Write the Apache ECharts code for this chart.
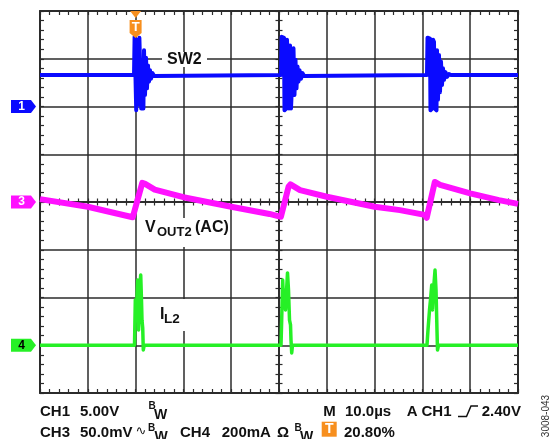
<!DOCTYPE html>
<html>
<head>
<meta charset="utf-8">
<script src="https://cdn.jsdelivr.net/npm/echarts@6/dist/echarts.min.js"></script>
<style>
html,body{margin:0;padding:0;background:#fff;}
#scope{width:551px;height:439px;}
</style>
</head>
<body>
<div id="scope"></div>
<script>
// Horizontal: time in µs (10 µs/div, centre = 0). Vertical: screen divisions (-4..4).
const timeRange = [-50, 50];
const timePerDiv = 10;
const divRange = [-4, 4];

// Channel scales and ground positions (in divisions from the screen centre)
const ch1VoltsPerDiv = 5;      // CH1 5.00V
const ch1Ground = 2;
const ch3MilliVoltsPerDiv = 50; // CH3 50.0mV (AC)
const ch3Ground = 0;
const ch4MilliAmpsPerDiv = 200; // CH4 200mA
const ch4Ground = -3;
const triggerTime = -30;

// CH1: SW2 switch node, [µs, V]
const sw2Volts = [
  [-50, 3.3], [-30.33, 3.3],
  [-30.21, 7.3], [-29.96, 7.2], [-29.87, -0.4], [-29.67, -0.2], [-29.58, 7.0], [-29.41, 7.1],
  [-29.33, 0.2], [-29.21, 7.2], [-28.95, 7.0], [-28.83, -0.2], [-28.37, -0.2], [-28.24, 5.9],
  [-28.03, 1.2], [-27.82, 5.1], [-27.62, 1.9], [-27.41, 4.3], [-27.20, 2.6], [-26.99, 3.8],
  [-26.78, 2.9], [-26.46, 3.5], [-26.15, 3.2], [-25.8, 3.3],
  [0.42, 3.3],
  [0.56, 7.3], [1.05, 7.2], [1.15, -0.4], [1.57, -0.2], [1.67, 7.0], [1.99, 7.0], [2.09, -0.2],
  [2.30, 6.4], [2.51, -0.2], [2.82, -0.2], [3.03, 6.1], [3.24, 1.2], [3.45, 4.9], [3.66, 1.9],
  [3.87, 4.2], [4.08, 2.6], [4.29, 3.8], [4.60, 2.9], [4.92, 3.5], [5.23, 3.2], [5.54, 3.3],
  [30.96, 3.3],
  [31.07, 7.2], [31.59, 7.1], [31.69, -0.4], [32.11, -0.2], [32.22, 7.0], [32.43, 6.75],
  [32.53, -0.2], [32.95, -0.4], [33.05, 5.9], [33.26, 0.7], [33.47, 5.4], [33.68, 1.5],
  [33.89, 4.7], [34.10, 2.25], [34.31, 4.0], [34.52, 2.8], [34.83, 3.6], [35.15, 3.1],
  [35.56, 3.4], [35.98, 3.3],
  [50, 3.3]
];

// CH3: VOUT2 ripple (AC coupled), [µs, mV]
const vout2MilliVolts = [
  [-50, 3], [-40, -5], [-30.6, -16], [-30.2, -17.5], [-28.6, 20], [-28, 19], [-26, 13],
  [-20, 5], [-10, -5], [-2, -12.5], [0.4, -15.5], [0.7, -16.5], [2.0, 16], [2.4, 18.5],
  [4.4, 12.5], [10, 5.5], [20, -5], [25.3, -8.5], [30.5, -13.5], [30.9, -16.5],
  [32.6, 21], [33.7, 18], [40, 9], [46, 2], [50, -2]
];

// CH4: inductor current IL2, [µs, mA]
const il2MilliAmps = [
  [-50, 0], [-30.23, 0],
  [-30.06, 190], [-29.92, 105], [-29.56, 273], [-29.37, 64], [-29.18, 231], [-28.93, 294],
  [-28.77, 190], [-28.66, 105], [-28.51, 72], [-28.39, -20], [-28.2, 0],
  [0.42, 0],
  [0.56, 105], [0.77, 273], [0.94, 190], [1.15, 231], [1.36, 148], [1.78, 303], [1.99, 231],
  [2.20, 105], [2.41, 85], [2.51, 22], [2.66, -32], [2.82, 0],
  [30.96, 0],
  [31.17, 64], [31.49, 148], [31.69, 190], [31.95, 252], [32.11, 148], [32.32, 231],
  [32.64, 315], [32.85, 231], [33.05, 64], [33.16, -20], [33.37, 0],
  [50, 0]
];

const BLUE = '#0a0aff';
const MAGENTA = '#ff10ff';
const GREEN = '#26f026';
const ORANGE = '#f78f1e';
const GRID = '#2b2b2b';
const INK = '#111111';

const toDiv = (pts, perDiv, ground) => pts.map(([t, v]) => [t, v / perDiv + ground]);

function frameAxis(position, withSplit, isX) {
  return {
    type: 'value',
    position: position,
    min: isX ? timeRange[0] : divRange[0],
    max: isX ? timeRange[1] : divRange[1],
    interval: isX ? timePerDiv : 1,
    axisLine: { show: true, onZero: false, lineStyle: { color: GRID, width: 2 } },
    axisTick: { show: true, inside: true, length: 4, lineStyle: { color: GRID, width: 1.2 } },
    minorTick: { show: true, splitNumber: 5, length: 4, lineStyle: { color: GRID, width: 1.2 } },
    splitLine: { show: withSplit, lineStyle: { color: GRID, width: 1.5 } },
    minorSplitLine: { show: false },
    axisLabel: { show: false }
  };
}
function centreAxis(position, inside, isX) {
  return {
    type: 'value',
    position: position,
    min: isX ? timeRange[0] : divRange[0],
    max: isX ? timeRange[1] : divRange[1],
    interval: isX ? timePerDiv : 1,
    axisLine: { show: true, onZero: true, onZeroAxisIndex: 0, lineStyle: { color: GRID, width: 1.5 } },
    axisTick: { show: true, inside: inside, length: 3.5, lineStyle: { color: GRID, width: 1.2 } },
    minorTick: { show: true, splitNumber: 5, length: 3.5, lineStyle: { color: GRID, width: 1.2 } },
    splitLine: { show: false },
    minorSplitLine: { show: false },
    axisLabel: { show: false }
  };
}

function channelTag(num, ground, color, textColor) {
  return {
    coord: [timeRange[0], ground],
    symbol: 'path://M0 0L20 0L25 6.5L20 13L0 13Z',
    symbolSize: [25, 13],
    symbolOffset: [-16.5, 0],
    itemStyle: { color: color },
    label: { show: true, formatter: String(num), color: textColor, fontWeight: 'bold',
             fontSize: 12, fontFamily: 'Liberation Sans, Arial', offset: [-2, 0] }
  };
}

const FONT = '"Liberation Sans", Arial, sans-serif';
function txt(x, y, text, size, extra) {
  return Object.assign({
    type: 'text', x: x, y: y, z: 1,
    style: { text: text, font: 'bold ' + size + 'px ' + FONT, fill: INK,
             textAlign: 'left', textVerticalAlign: 'middle', verticalAlign: 'middle' }
  }, extra || {});
}
function box(x, y, w, h, fill) {
  return { type: 'rect', z: 1, shape: { x: x, y: y, width: w, height: h }, style: { fill: fill || '#fff' } };
}

const chart = echarts.init(document.getElementById('scope'), null, { renderer: 'canvas' });
chart.setOption({
  animation: false,
  backgroundColor: '#fff',
  grid: { left: 40, top: 11, width: 478, height: 382, containLabel: false, outerBoundsMode: 'none', show: false },
  xAxis: [
    frameAxis('bottom', true, true),
    frameAxis('top', false, true),
    centreAxis('bottom', true, true),
    centreAxis('bottom', false, true)
  ],
  yAxis: [
    frameAxis('left', true, false),
    frameAxis('right', false, false),
    centreAxis('left', true, false),
    centreAxis('left', false, false)
  ],
  series: [
    {
      name: 'SW2', type: 'line', xAxisIndex: 0, yAxisIndex: 0, z: 3,
      data: toDiv(sw2Volts, ch1VoltsPerDiv, ch1Ground),
      showSymbol: false, symbol: 'none',
      lineStyle: { color: BLUE, width: 4, join: 'round' },
      markPoint: {
        silent: true,
        data: [
          channelTag(1, ch1Ground, BLUE, '#fff'),
          {
            coord: [triggerTime, divRange[1]],
            symbol: 'path://M0 0L12 0L6 7Z', symbolSize: [11, 7], symbolOffset: [0, 3.5],
            itemStyle: { color: ORANGE }, label: { show: false }
          },
          {
            coord: [triggerTime, divRange[1]],
            symbol: 'path://M0 0L12 0L12 13L6 18L0 13Z', symbolSize: [12, 18], symbolOffset: [0, 18],
            itemStyle: { color: ORANGE },
            label: { show: true, formatter: 'T', color: '#fff', fontWeight: 'bold', fontSize: 13,
                     fontFamily: FONT, offset: [0, -1.5] }
          }
        ]
      }
    },
    {
      name: 'VOUT2', type: 'line', xAxisIndex: 0, yAxisIndex: 0, z: 3,
      data: toDiv(vout2MilliVolts, ch3MilliVoltsPerDiv, ch3Ground),
      showSymbol: false, symbol: 'none',
      lineStyle: { color: MAGENTA, width: 6, join: 'round' },
      markPoint: { silent: true, data: [channelTag(3, ch3Ground, MAGENTA, '#fff')] }
    },
    {
      name: 'IL2', type: 'line', xAxisIndex: 0, yAxisIndex: 0, z: 3,
      data: toDiv(il2MilliAmps, ch4MilliAmpsPerDiv, ch4Ground),
      showSymbol: false, symbol: 'none',
      lineStyle: { color: GREEN, width: 3.5, join: 'round' },
      markPoint: { silent: true, data: [channelTag(4, ch4Ground, GREEN, '#000')] }
    }
  ],
  graphic: [
    // trace labels
    box(162, 52, 45, 15),
    txt(167, 59.5, 'SW2', 16),
    box(138, 218, 92, 29),
    txt(145, 228, 'V', 16),
    txt(157, 232.5, 'OUT2', 13),
    txt(195, 228, '(AC)', 16),
    box(152, 299, 36, 32),
    txt(160, 314.7, 'I', 16),
    txt(164, 319, 'L2', 13.5),

    // readout line 1
    txt(40, 411.7, 'CH1', 15),
    txt(80, 411.7, '5.00V', 15),
    txt(148.5, 406.5, 'B', 10),
    txt(154, 415.5, 'W', 14),
    txt(323.3, 411.7, 'M', 15),
    txt(345, 411.7, '10.0µs', 15),
    txt(406.7, 411.7, 'A', 15),
    txt(421.5, 411.7, 'CH1', 15),
    { type: 'polyline', z: 1, shape: { points: [[458, 416.5], [466.5, 416.5], [471, 406], [478, 406]] },
      style: { stroke: INK, lineWidth: 1.5, fill: null } },
    txt(481.7, 411.7, '2.40V', 15),

    // readout line 2
    txt(40, 433, 'CH3', 15),
    txt(80, 433, '50.0mV', 15),
    txt(135.5, 432, '∿', 13, { style: { text: '∿', font: '13px "DejaVu Sans", sans-serif', fill: INK,
        textAlign: 'left', textVerticalAlign: 'middle', verticalAlign: 'middle' } }),
    txt(148, 428, 'B', 10),
    txt(154.5, 437, 'W', 14),
    txt(180, 433, 'CH4', 15),
    txt(221.7, 433, '200mA', 15),
    txt(277, 433, 'Ω', 15),
    txt(294.5, 428, 'B', 10),
    txt(300, 437, 'W', 14),
    box(321.7, 421.7, 15, 15, ORANGE),
    { type: 'text', z: 2, x: 329.2, y: 429.5,
      style: { text: 'T', font: 'bold 14px ' + FONT, fill: '#fff', textAlign: 'center',
               textVerticalAlign: 'middle', verticalAlign: 'middle' } },
    txt(344, 433, '20.80%', 15),

    // figure id
    { type: 'text', z: 1, x: 546, y: 416, rotation: Math.PI / 2,
      style: { text: '3008-043', font: '10px ' + FONT, fill: '#333', textAlign: 'center',
               textVerticalAlign: 'middle', verticalAlign: 'middle' } }
  ]
});
</script>
</body>
</html>
